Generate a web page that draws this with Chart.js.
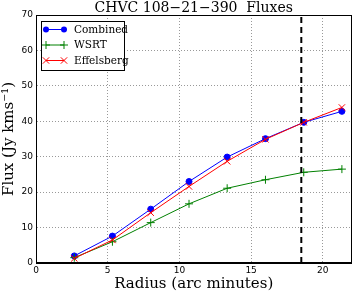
<!DOCTYPE html>
<html>
<head>
<meta charset="utf-8">
<script src="https://cdn.jsdelivr.net/npm/chart.js@4/dist/chart.umd.min.js"></script>
<style>
  html, body { margin: 0; padding: 0; background: #fff; }
  #wrap { width: 357px; height: 293px; }
</style>
</head>
<body>
<div id="wrap"><canvas id="fluxChart" width="357" height="293"></canvas></div>
<script>
// radii in arc minutes
const radius = [2.67, 5.33, 8.0, 10.67, 13.33, 16.0, 18.67, 21.33];
const combined = [2.0, 7.6, 15.2, 23.0, 29.9, 35.1, 39.7, 42.8];
const wsrt = [1.5, 6.0, 11.4, 16.7, 21.1, 23.5, 25.6, 26.5];
const effelsberg = [1.3, 6.5, 14.2, 21.6, 28.7, 34.9, 39.7, 43.9];
const cutRadius = 18.5;
const xTicks = [0, 5, 10, 15, 20];
const yTicks = [0, 10, 20, 30, 40, 50, 60, 70];

function pts(ys) {
  return radius.map((r, i) => ({ x: r, y: ys[i] }));
}

// title, frame + legend box drawn inside the plot, matplotlib style
const extras = {
  id: 'extras',
  afterDraw(chart) {
    const ctx = chart.ctx;
    const a = chart.chartArea;
    ctx.save();
    // frame
    ctx.strokeStyle = '#000';
    ctx.lineWidth = 1;
    ctx.strokeRect(Math.round(a.left) + 0.5, Math.round(a.top) + 0.5,
      Math.round(a.right - a.left) - 1, Math.round(a.bottom - a.top) - 1);

    ctx.fillStyle = '#000';
    ctx.font = '14px "DejaVu Serif", serif';
    ctx.textAlign = 'center';
    ctx.textBaseline = 'middle';
    ctx.fillText('CHVC 108\u221221\u2212390  Fluxes', (a.left + a.right) / 2, 8);

    // legend
    const bx = a.left + 5, by = a.top + 6, bw = 83, bh = 49;
    ctx.fillStyle = '#fff';
    ctx.fillRect(bx, by, bw, bh);
    ctx.strokeStyle = '#000';
    ctx.lineWidth = 1;
    ctx.strokeRect(bx + 0.5, by + 0.5, bw, bh);
    const items = chart.data.datasets.filter(d => d.inLegend);
    ctx.font = '10.5px "DejaVu Serif", serif';
    ctx.textAlign = 'left';
    ctx.textBaseline = 'middle';
    items.forEach((d, i) => {
      const y = by + 8.5 + i * 15.5;
      const x0 = bx + 5, x1 = bx + 23;
      ctx.strokeStyle = d.borderColor;
      ctx.lineWidth = 1;
      ctx.beginPath();
      ctx.moveTo(x0, y);
      ctx.lineTo(x1, y);
      ctx.stroke();
      [x0, x1].forEach(px => {
        if (d.pointStyle === 'circle') {
          ctx.fillStyle = d.pointBackgroundColor;
          ctx.beginPath();
          ctx.arc(px, y, d.pointRadius, 0, Math.PI * 2);
          ctx.fill();
        } else {
          Chart.helpers.drawPoint(ctx, {
            pointStyle: d.pointStyle,
            radius: d.pointRadius,
            borderWidth: 1
          }, px, y);
        }
      });
      ctx.fillStyle = '#000';
      ctx.fillText(d.label, bx + 33, y + 0.5);
    });
    ctx.restore();
  }
};

new Chart('fluxChart', {
  type: 'scatter',
  data: {
    datasets: [
      {
        label: 'Combined',
        inLegend: true,
        data: pts(combined),
        showLine: true,
        borderColor: '#0000ff',
        backgroundColor: '#0000ff',
        pointBackgroundColor: '#0000ff',
        pointBorderColor: '#0000ff',
        pointStyle: 'circle',
        pointRadius: 3,
        borderWidth: 1,
        order: 3
      },
      {
        label: 'WSRT',
        inLegend: true,
        data: pts(wsrt),
        showLine: true,
        borderColor: '#008000',
        backgroundColor: '#008000',
        pointBorderColor: '#008000',
        pointStyle: 'cross',
        pointRadius: 4,
        borderWidth: 1,
        order: 2
      },
      {
        label: 'Effelsberg',
        inLegend: true,
        data: pts(effelsberg),
        showLine: true,
        borderColor: '#ff0000',
        backgroundColor: '#ff0000',
        pointBorderColor: '#ff0000',
        pointStyle: 'crossRot',
        pointRadius: 4.5,
        borderWidth: 1,
        order: 1
      },
      {
        label: 'cut',
        inLegend: false,
        data: [{ x: cutRadius, y: yTicks[0] }, { x: cutRadius, y: yTicks[yTicks.length - 1] }],
        showLine: true,
        borderColor: '#000',
        borderWidth: 2,
        borderDash: [6, 4],
        pointRadius: 0,
        order: 0
      }
    ]
  },
  plugins: [extras],
  options: {
    responsive: false,
    animation: false,
    layout: { padding: { top: 15, right: 1, left: 0, bottom: 0 } },
    plugins: {
      legend: { display: false },
      title: { display: false },
      tooltip: { enabled: false }
    },
    scales: {
      x: {
        type: 'linear',
        min: 0,
        max: 22,
        afterBuildTicks(s) { s.ticks = xTicks.map(v => ({ value: v })); },
        afterFit(s) { s.height = 30; },
        grid: { color: '#999', lineWidth: 1, drawTicks: false },
        border: { color: '#000', width: 1, dash: [1, 2] },
        ticks: { color: '#000', font: { family: '"DejaVu Sans", sans-serif', size: 9 }, padding: 2, maxRotation: 0 },
        title: {
          display: true,
          text: 'Radius (arc minutes)',
          color: '#000',
          font: { family: '"DejaVu Serif", serif', size: 15 },
          padding: { top: 0, bottom: 0 }
        }
      },
      y: {
        type: 'linear',
        min: 0,
        max: 70,
        afterBuildTicks(s) { s.ticks = yTicks.map(v => ({ value: v })); },
        afterFit(s) { s.width = 36; },
        grid: { color: '#999', lineWidth: 1, drawTicks: false },
        border: { color: '#000', width: 1, dash: [1, 2] },
        ticks: { color: '#000', font: { family: '"DejaVu Sans", sans-serif', size: 9 }, padding: 3 },
        title: {
          display: true,
          text: 'Flux (Jy kms\u207B\u00B9)',
          color: '#000',
          font: { family: '"DejaVu Serif", serif', size: 15 },
          padding: { top: 0, bottom: 2 }
        }
      }
    }
  }
});
</script>
</body>
</html>
